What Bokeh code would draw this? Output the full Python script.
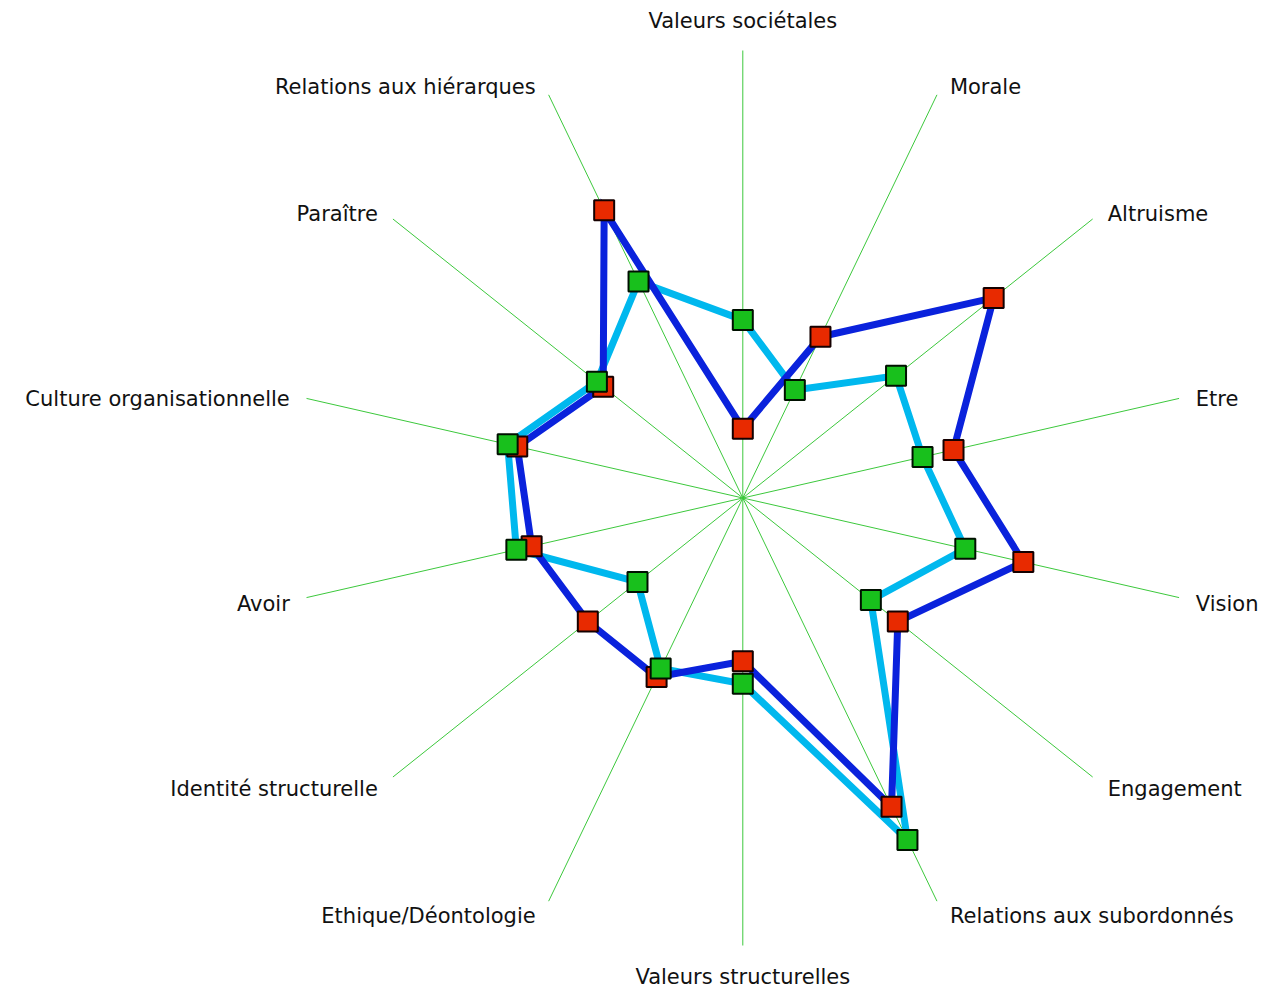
import numpy as np
from bokeh.plotting import figure
from bokeh.models import ColumnDataSource, Range1d
from bokeh.core.properties import value
from bokeh.embed import file_html
from bokeh.resources import INLINE

# ---- data ----
categories = ["Valeurs sociétales", "Morale", "Altruisme", "Etre", "Vision",
              "Engagement", "Relations aux subordonnés", "Valeurs structurelles",
              "Ethique/Déontologie", "Identité structurelle", "Avoir",
              "Culture organisationnelle", "Paraître", "Relations aux hiérarques"]
red_values = [15.5, 40.0, 71.7, 48.3, 64.3, 44.3, 76.6, 36.5, 44.4, 44.3, 48.4, 51.7, 39.9, 71.4]
green_values = [39.8, 26.8, 43.8, 41.2, 51.0, 36.6, 84.8, 41.5, 42.3, 30.1, 51.9, 53.9, 41.7, 53.7]
max_value = 100.0

# ---- geometry ----
W, H = 1268, 991
px_per_unit = 447.5 / max_value
cx_px, cy_px = 742.3, 497.5
x0 = -cx_px / px_per_unit
x1 = (W - cx_px) / px_per_unit
y1 = cy_px / px_per_unit
y0 = -(H - cy_px) / px_per_unit

n = len(categories)
theta = np.arange(n) * 2 * np.pi / n
s, c = np.sin(theta), np.cos(theta)

p = figure(width=W, height=H, x_range=Range1d(x0, x1), y_range=Range1d(y0, y1),
           output_backend="svg", toolbar_location=None,
           x_axis_location=None, y_axis_location=None, min_border=0,
           outline_line_color=None, background_fill_color="white",
           border_fill_color="white")
p.xgrid.visible = False
p.ygrid.visible = False

# spokes
p.segment(x0=np.zeros(n), y0=np.zeros(n), x1=max_value * s, y1=max_value * c,
          line_color="#3cc83c", line_width=1)

# labels
lx, ly, al = [], [], []
for si, ci in zip(s, c):
    ex, ey = max_value * si, max_value * ci
    if abs(si) < 1e-6:
        dx, dy = 0.0, 1.1 - 30.3 * ci
        al.append("center")
    else:
        dx = np.sign(si) * (12 + 5 * si * si)
        dy = 3.5 - 13 * ci
        al.append("left" if si > 0 else "right")
    lx.append(ex + dx / px_per_unit)
    ly.append(ey - dy / px_per_unit)
lsrc = ColumnDataSource(dict(x=lx, y=ly, t=categories, a=al))
p.text(x="x", y="y", text="t", text_align="a", source=lsrc,
       text_baseline="alphabetic", text_font=value("DejaVu Sans"),
       text_font_size="21px", text_color="#111111")

def closed(vals):
    v = np.array(vals)
    x = v * s
    y = v * c
    return np.append(x, x[0]), np.append(y, y[0]), x, y

gx, gy, gmx, gmy = closed(green_values)
rx, ry, rmx, rmy = closed(red_values)

p.line(gx, gy, line_color="#00b8ee", line_width=7, line_join="miter")
p.line(rx, ry, line_color="#0a22dc", line_width=7, line_join="miter")
p.scatter(rmx, rmy, marker="square", size=20, fill_color="#e82a00",
          line_color="#150000", line_width=2)
p.scatter(gmx, gmy, marker="square", size=20, fill_color="#18c01c",
          line_color="#001000", line_width=2)

open("out.html", "w").write(file_html(p, INLINE))
